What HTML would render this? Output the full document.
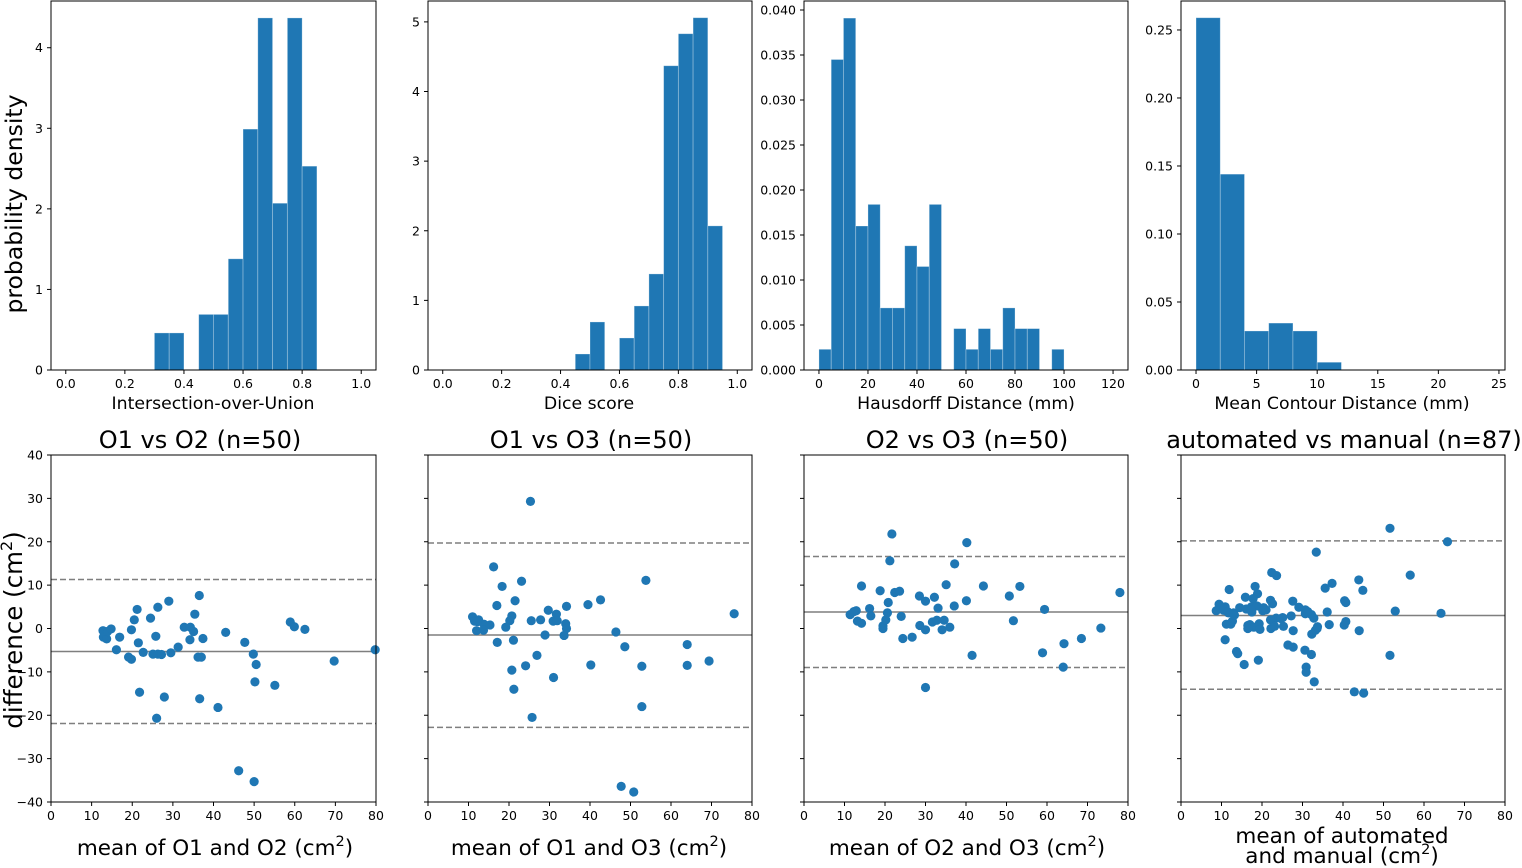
<!DOCTYPE html>
<html><head><meta charset="utf-8">
<style>
html,body{margin:0;padding:0;background:#fff;}
svg{display:block;font-family:"DejaVu Sans","Liberation Sans",sans-serif;}
</style></head>
<body>
<svg id="fig" width="1522" height="868" viewBox="0 0 1522 868" xmlns="http://www.w3.org/2000/svg"></svg>
<script>
// ---------- histogram data ----------
const iouEdges = [0.30,0.35,0.40,0.45,0.50,0.55,0.60,0.65,0.70,0.75,0.80,0.85];
const iouDens = [0.46,0.46,0,0.69,0.69,1.38,2.99,4.37,2.07,4.37,2.53];
const diceEdges = [0.45,0.50,0.55,0.60,0.65,0.70,0.75,0.80,0.85,0.90,0.95];
const diceDens = [0.23,0.69,0,0.46,0.92,1.38,4.37,4.83,5.06,2.07];
const hdEdges = [0,5,10,15,20,25,30,35,40,45,50,55,60,65,70,75,80,85,90,95,100];
const hdDens = [0.0023,0.0345,0.0391,0.0160,0.0184,0.0069,0.0069,0.0138,0.0115,0.0184,0,0.0046,0.0023,0.0046,0.0023,0.0069,0.0046,0.0046,0,0.0023];
const mcdEdges = [0,2,4,6,8,10,12];
const mcdDens = [0.259,0.144,0.0287,0.0345,0.0287,0.0057];
const iouTicks = ["0.0","0.2","0.4","0.6","0.8","1.0"];
const hdTicks = ["0","20","40","60","80","100","120"];
const mcdTicks = ["0","5","10","15","20","25"];
const iouYTicks = ["0","1","2","3","4"];
const diceYTicks = ["0","1","2","3","4","5"];
const hdYTicks = ["0.000","0.005","0.010","0.015","0.020","0.025","0.030","0.035","0.040"];
const mcdYTicks = ["0.00","0.05","0.10","0.15","0.20","0.25"];
// ---------- Bland-Altman data ----------
const ba1Mean = [12.8,12.9,13.7,13.9,14.8,16.9,16.1,19.1,19.8,19.8,20.5,21.2,21.5,21.8,22.7,24.5,25.1,25.8,26.3,26,26.3,27.2,27.9,29,29.5,31.3,32.8,34.3,34.2,35.1,35.4,36.5,36.2,37,36.6,37.4,41.1,43,46.2,47.7,49.8,50.5,50.2,50,55.1,58.9,59.9,62.5,69.7,79.8];
const ba1Diff = [-0.5,-2,-2.4,-0.7,-0.1,-2,-4.9,-6.6,-7.1,-0.3,2,4.4,-3.3,-14.7,-5.5,2.4,-5.9,-1.8,4.9,-20.7,-5.9,-6,-15.8,6.3,-5.6,-4.3,0.3,0.3,-2.6,-0.7,3.3,7.6,-6.6,-6.6,-16.2,-2.3,-18.2,-0.9,-32.8,-3.2,-5.9,-8.3,-12.3,-35.3,-13.1,1.5,0.4,-0.2,-7.5,-4.9];
const ba1Lines = [-5.3,11.3,-21.9];
const ba2Mean = [25.3,16.2,18.3,23.1,53.8,17.0,21.5,39.5,42.6,34.2,29.7,31.7,11.0,11.5,12.5,13.8,15.3,12.0,13.7,20.7,20.2,19.2,25.5,27.8,30.9,31.9,34.0,34.2,28.9,33.6,46.4,75.6,17.1,21.1,48.6,64.0,26.9,24.1,20.7,31.0,40.2,52.8,64.0,69.4,21.2,52.8,25.7,47.7,50.8,12.2];
const ba2Diff = [29.3,14.2,9.7,10.9,11.1,5.3,6.4,5.5,6.6,5.1,4.2,3.3,2.7,1.7,2.0,1.0,0.8,-0.5,-0.4,2.9,1.8,0.3,1.8,2.0,1.7,1.8,1.1,0.0,-1.5,-1.6,-0.8,3.4,-3.2,-2.7,-4.2,-3.7,-6.2,-8.6,-9.6,-11.3,-8.4,-8.7,-8.5,-7.5,-14.0,-18.0,-20.5,-36.4,-37.7,1.6];
const ba2Lines = [-1.5,19.7,-22.8];
const ba3Mean = [21.7,40.2,21.2,37.2,14.2,35.1,44.3,53.3,18.8,22.4,23.6,50.7,78.0,28.5,32.2,30.0,20.8,40.1,37.1,33.1,16.2,12.9,11.4,20.6,59.4,16.5,24.0,13.2,14.2,51.7,31.7,32.8,34.6,28.6,30.0,34.1,36.0,19.5,19.5,73.3,24.4,26.7,68.5,64.2,41.5,58.9,64.0,30.0,12.3,20.2];
const ba3Diff = [21.8,19.8,15.6,14.9,9.8,10.1,9.8,9.7,8.7,8.3,8.6,7.5,8.3,7.5,7.2,6.3,6.0,6.4,5.2,4.7,4.6,4.1,3.2,3.6,4.4,2.9,2.8,1.7,1.2,1.8,1.5,1.9,1.9,0.7,-0.3,-0.3,0.3,0.6,0.0,0.1,-2.3,-2.0,-2.3,-3.5,-6.2,-5.6,-8.9,-13.6,3.9,2.0];
const ba3Lines = [3.8,16.6,-9.0];
const ba4Mean = [51.6,65.8,33.4,56.6,22.4,23.6,43.9,37.3,35.6,44.9,11.9,18.3,18.9,15.9,17.8,22.1,22.6,27.6,40.4,40.7,9.4,8.7,10.9,10.5,11.7,13.0,14.5,16.1,17.5,17.4,18.8,20.4,20.2,29.1,30.7,30.7,32.2,32.8,36.1,52.9,64.2,27.2,25.1,23.5,22.1,22.2,23.1,25.3,27.7,11.2,12.3,12.7,16.5,17.0,18.0,19.3,19.5,36.6,40.3,40.7,44.0,33.6,33.2,32.3,10.9,13.7,14.0,15.6,19.1,26.4,27.7,30.6,32.2,30.9,30.9,32.9,51.6,42.8,45.1,11.5,13.2,21.0,24.7,16.5,17.3,31.3,33.7];
const ba4Diff = [23.1,20.0,17.6,12.3,12.9,12.2,11.2,10.4,9.3,8.8,9.0,9.7,8.0,7.2,6.9,6.5,5.7,6.3,6.4,6.0,5.6,4.1,5.0,4.2,3.6,3.6,4.8,4.5,3.8,5.0,5.2,4.8,4.1,4.9,4.3,3.4,3.2,2.4,3.8,4.0,3.5,2.9,2.5,2.4,2.0,0.0,0.5,0.5,-0.5,1.0,1.0,1.7,0.7,0.9,0.3,1.1,-0.2,0.9,0.8,1.6,-0.5,0.0,-0.4,-1.3,-2.6,-5.3,-5.8,-8.3,-7.3,-3.8,-4.3,-5.0,-6.0,-8.9,-10.1,-12.3,-6.2,-14.6,-14.9,3.9,3.1,4.3,2.3,0.0,4.3,3.9,0.4];
const ba4Lines = [3.0,20.2,-14.0];
const baXTicks = ["0","10","20","30","40","50","60","70","80"];
const baYTicks = ["−40","−30","−20","−10","0","10","20","30","40"];

const NS = "http://www.w3.org/2000/svg";
const svg = document.getElementById('fig');
const BLUE = "#1f77b4";
function mk(tag, attrs, parent) {
  const e = document.createElementNS(NS, tag);
  for (const k in attrs) e.setAttribute(k, attrs[k]);
  (parent || svg).appendChild(e);
  return e;
}
function txt(s, x, y, size, anchor, parent) {
  const t = mk('text', {x: x, y: y, 'font-size': size, 'text-anchor': anchor || 'middle', fill: '#000'}, parent);
  t.textContent = s;
  return t;
}
function scale(d0, d1, p0, p1) { return v => p0 + (v - d0) * (p1 - p0) / (d1 - d0); }

// ---------- histograms ----------
const hists = [
  {name:'iou', L:51, R:376, xmin:-0.05, xmax:1.05, ymax:4.58, edges:iouEdges, dens:iouDens, xt:iouTicks, yt:iouYTicks, label:'Intersection-over-Union', lx:213},
  {name:'dice', L:428, R:752, xmin:-0.05, xmax:1.05, ymax:5.30, edges:diceEdges, dens:diceDens, xt:iouTicks, yt:diceYTicks, label:'Dice score', lx:589},
  {name:'hausdorff', L:804, R:1128, xmin:-6.1, xmax:126.1, ymax:0.0410, edges:hdEdges, dens:hdDens, xt:hdTicks, yt:hdYTicks, label:'Hausdorff Distance (mm)', lx:966},
  {name:'mcd', L:1181, R:1505, xmin:-1.24, xmax:25.5, ymax:0.2713, edges:mcdEdges, dens:mcdDens, xt:mcdTicks, yt:mcdYTicks, label:'Mean Contour Distance (mm)', lx:1342}
];
const TOP = 1, BOT = 370;
hists.forEach(h => {
  const g = mk('g', {});
  
  
  const xs = scale(h.xmin, h.xmax, h.L, h.R), ys = scale(0, h.ymax, BOT, TOP);
  for (let i = 0; i < h.dens.length; i++) {
    if (h.dens[i] <= 0) continue;
    const x0 = xs(h.edges[i]), x1 = xs(h.edges[i+1]), y = ys(h.dens[i]);
    const r = mk('rect', {x:x0, y:y, width:x1-x0, height:BOT-y, fill:BLUE, stroke:'rgba(255,255,255,0.35)', 'stroke-width':0.8}, g);
    
    
  }
  mk('rect', {x:h.L, y:TOP, width:h.R-h.L, height:BOT-TOP, fill:'none', stroke:'#000', 'stroke-width':1}, g);
  h.xt.forEach(s => {
    const v = parseFloat(s), x = xs(v);
    mk('line', {x1:x, x2:x, y1:BOT, y2:BOT+4, stroke:'#000'}, g);
    const t = txt(s, x, BOT+18, 12.5, 'middle', g);
    
    
  });
  h.yt.forEach(s => {
    const v = parseFloat(s), y = ys(v);
    mk('line', {x1:h.L-4, x2:h.L, y1:y, y2:y, stroke:'#000'}, g);
    const t = txt(s, h.L-8, y+4.5, 12.5, 'end', g);
    
    
  });
  const xl = txt(h.label, h.lx, 409, 17.3, 'middle', g);
  
  
});
const yl1 = txt('probability density', 0, 0, 23.5, 'middle');
yl1.setAttribute('transform', 'translate(22,204) rotate(-90)');



// ---------- Bland-Altman ----------
const bas = [
  {name:'o1-vs-o2', L:51, R:376, m:ba1Mean, d:ba1Diff, lines:ba1Lines, title:'O1 vs O2 (n=50)', tx:200, xl:['mean of O1 and O2 (cm','2',')'], lx:215},
  {name:'o1-vs-o3', L:428, R:752, m:ba2Mean, d:ba2Diff, lines:ba2Lines, title:'O1 vs O3 (n=50)', tx:591, xl:['mean of O1 and O3 (cm','2',')'], lx:589},
  {name:'o2-vs-o3', L:804, R:1128, m:ba3Mean, d:ba3Diff, lines:ba3Lines, title:'O2 vs O3 (n=50)', tx:967, xl:['mean of O2 and O3 (cm','2',')'], lx:967},
  {name:'automated-vs-manual', L:1181, R:1505, m:ba4Mean, d:ba4Diff, lines:ba4Lines, title:'automated vs manual (n=87)', tx:1344, xl:null, lx:1342}
];
const BT = 455, BB = 802;
bas.forEach((b, idx) => {
  const g = mk('g', {});
  
  
  const xs = scale(0, 80, b.L, b.R), ys = scale(-40, 40, BB, BT);
  b.lines.forEach((v, i) => {
    const ln = mk('line', {x1:b.L, x2:b.R, y1:ys(v), y2:ys(v), stroke:'#7f7f7f', 'stroke-width':1.5}, g);
    if (i > 0) ln.setAttribute('stroke-dasharray', '6,3');
    
    
  });
  for (let i = 0; i < b.m.length; i++) {
    const c = mk('circle', {cx:xs(b.m[i]), cy:ys(b.d[i]), r:4.6, fill:BLUE}, g);
    
    
  }
  mk('rect', {x:b.L, y:BT, width:b.R-b.L, height:BB-BT, fill:'none', stroke:'#000', 'stroke-width':1}, g);
  baXTicks.forEach(s => {
    const x = xs(parseFloat(s));
    mk('line', {x1:x, x2:x, y1:BB, y2:BB+4, stroke:'#000'}, g);
    const t = txt(s, x, BB+18, 12.5, 'middle', g);
    
    
  });
  baYTicks.forEach(s => {
    const y = ys(parseFloat(s.replace('−','-')));
    mk('line', {x1:b.L-4, x2:b.L, y1:y, y2:y, stroke:'#000'}, g);
    if (idx === 0) {
      const t = txt(s, b.L-8, y+4.5, 12.5, 'end', g);
      
      
    }
  });
  const tt = txt(b.title, b.tx, 448, 24, 'middle', g);
  
  
  const cx = b.lx;
  if (b.xl) {
    const t = mk('text', {x:cx, y:855, 'font-size':21.5, 'text-anchor':'middle'}, g);
    
    
    const s1 = mk('tspan', {}, t); s1.textContent = b.xl[0];
    const s2 = mk('tspan', {dy:-9, 'font-size':14.5}, t); s2.textContent = b.xl[1];
    const s3 = mk('tspan', {dy:9}, t); s3.textContent = ')';
  } else {
    const t1 = txt('mean of automated', cx, 843, 21.5, 'middle', g);
    
    
    const t = mk('text', {x:cx, y:863, 'font-size':21.5, 'text-anchor':'middle'}, g);
    
    
    const s1 = mk('tspan', {}, t); s1.textContent = 'and manual (cm';
    const s2 = mk('tspan', {dy:-9, 'font-size':14.5}, t); s2.textContent = '2';
    const s3 = mk('tspan', {dy:9}, t); s3.textContent = ')';
  }
});
const yl2 = mk('text', {'font-size':24.5, 'text-anchor':'middle', transform:'translate(22,630) rotate(-90)'});


const a1 = mk('tspan', {}, yl2); a1.textContent = 'difference (cm';
const a2 = mk('tspan', {dy:-10, 'font-size':16}, yl2); a2.textContent = '2';
const a3 = mk('tspan', {dy:10}, yl2); a3.textContent = ')';
</script>
</body></html>
